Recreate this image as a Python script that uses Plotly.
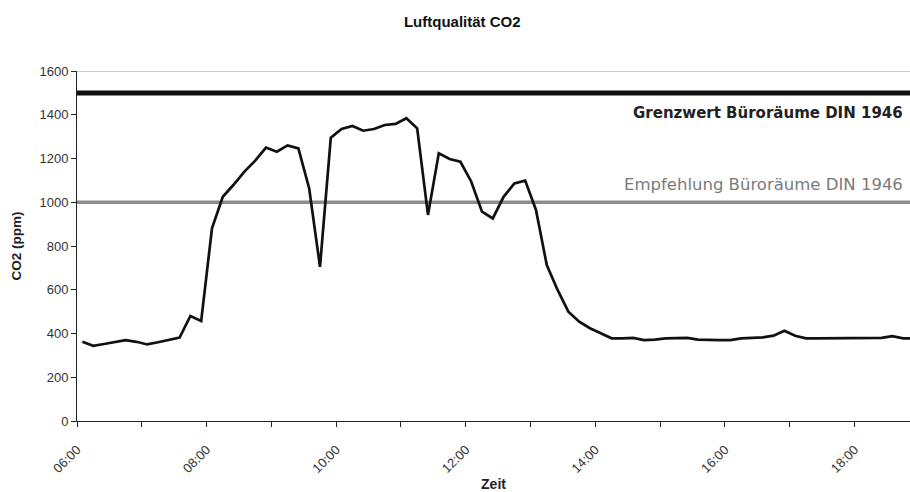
import plotly.graph_objects as go
from datetime import datetime, timedelta

# --- data ---
start = datetime(2000, 1, 1, 6, 5)
co2_ppm = [362, 344, 352, 362, 370, 362, 350, 360, 370, 381,
           480, 457, 881, 1025, 1080, 1140, 1190, 1250, 1231, 1260,
           1246, 1063, 705, 1295, 1335, 1349, 1327, 1335, 1353, 1358,
           1384, 1338, 942, 1224, 1198, 1185, 1095, 957, 926, 1025,
           1086, 1099, 965, 713, 599, 500, 454, 424, 401, 378,
           378, 380, 370, 372, 378, 380, 380, 372, 370, 370,
           370, 378, 380, 382, 390, 413, 390, 378, 378, 378,
           378, 378, 378, 378, 380, 388, 378, 378]
times = [start + timedelta(minutes=10 * i) for i in range(len(co2_ppm))]

limit_value = 1500
limit_label = "Grenzwert Büroräume DIN 1946"
recommend_value = 1000
recommend_label = "Empfehlung Büroräume DIN 1946"

x_start = datetime(2000, 1, 1, 6, 0)
x_end = datetime(2000, 1, 1, 18, 51, 20)

fig = go.Figure()

fig.add_trace(go.Scatter(x=[x_start, x_end], y=[limit_value, limit_value], mode="lines",
                         line=dict(color="#111111", width=5), hoverinfo="skip", showlegend=False))
fig.add_trace(go.Scatter(x=[x_start, x_end], y=[recommend_value, recommend_value], mode="lines",
                         line=dict(color="#8c8c8c", width=3.5), hoverinfo="skip", showlegend=False))
fig.add_trace(go.Scatter(x=times, y=co2_ppm, mode="lines",
                         line=dict(color="#111111", width=2.7), showlegend=False))

fig.add_shape(type="line", xref="paper", yref="y", x0=0, x1=1, y0=1600, y1=1600,
              line=dict(color="#9a9a9a", width=1))

fig.add_annotation(xref="paper", yref="y", x=0.994, y=1408, xanchor="right", yanchor="middle",
                   text="<b>" + limit_label + "</b>", showarrow=False,
                   font=dict(family="DejaVu Sans", size=15, color="#222222"))
fig.add_annotation(xref="paper", yref="y", x=0.994, y=1083, xanchor="right", yanchor="middle",
                   text=recommend_label, showarrow=False,
                   font=dict(family="DejaVu Sans", size=16.5, color="#7a7a7a"))

fig.update_layout(
    width=910, height=492,
    margin=dict(l=77, r=0, t=71, b=71),
    paper_bgcolor="white", plot_bgcolor="white",
    font=dict(family="Liberation Sans", size=13, color="#222222"),
    title=dict(text="<b>Luftqualität CO2</b>", x=0.508, xanchor="center", y=0.955, yanchor="middle",
               font=dict(family="Liberation Sans", size=15, color="#111111")),
    xaxis=dict(
        range=[x_start, x_end], type="date",
        tick0=x_start, dtick=7200000, tickformat="%H:%M", tickangle=-45,
        ticks="outside", ticklen=5, tickcolor="#222222", ticklabelstandoff=10,
        minor=dict(dtick=3600000, ticks="outside", ticklen=5, tickcolor="#222222", showgrid=False),
        showline=True, linecolor="#222222", linewidth=1, showgrid=False, zeroline=False,
        title=dict(text="<b>Zeit</b>", standoff=7, font=dict(size=14)),
        tickfont=dict(size=13, color="#333333"),
    ),
    yaxis=dict(
        range=[0, 1600], dtick=200, ticks="outside", ticklen=5, tickcolor="#222222",
        showline=True, linecolor="#222222", linewidth=1, showgrid=False, zeroline=False,
        title=dict(text="<b>CO2 (ppm)</b>", standoff=14, font=dict(size=13.5)),
        tickfont=dict(size=13, color="#333333"),
    ),
)

fig.write_html("out.html", config={"displayModeBar": False},
               post_script="document.body.style.margin='0px';")
